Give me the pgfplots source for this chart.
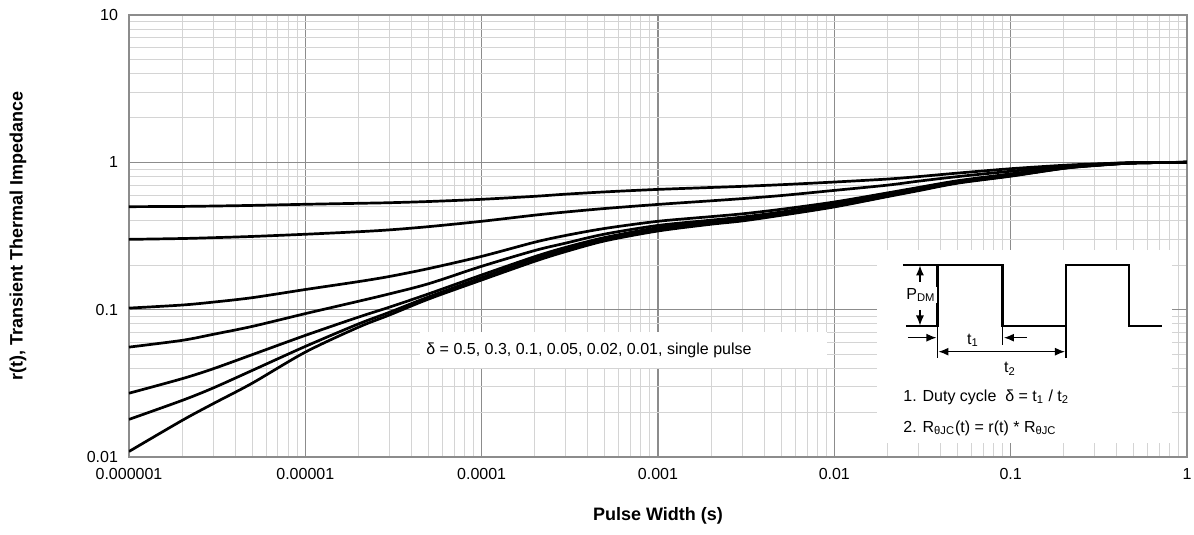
\documentclass[border=0pt]{standalone}
\usepackage{pgfplots}
\pgfplotsset{compat=1.18}
\usepackage{pgfplotstable}
\usepackage{fontspec}
\setmainfont{Liberation Sans}
\usetikzlibrary{arrows.meta}
\definecolor{majgrid}{HTML}{8C8C8C}
\definecolor{mingrid}{HTML}{D4D4D4}

\pgfplotstableread{
x      d05    d03    d01     d005    d002   d001   sp
1e-6   0.500  0.300  0.1025  0.0557  0.0271 0.0180 0.0109
2e-6   0.502  0.304  0.1075  0.0619  0.0340 0.0242 0.0177
3e-6   0.505  0.308  0.1125  0.0680  0.0397 0.0294 0.0230
5e-6   0.510  0.314  0.1206  0.0770  0.0495 0.0387 0.0317
1e-5   0.519  0.325  0.137   0.094   0.0669 0.0563 0.0515
2e-5   0.527  0.338  0.155   0.114   0.089  0.080  0.076
3e-5   0.532  0.348  0.168   0.128   0.104  0.096  0.092
5e-5   0.542  0.366  0.190   0.150   0.128  0.122  0.118
1e-4   0.561  0.398  0.230   0.197   0.172  0.165  0.159
2e-4   0.588  0.438  0.287   0.252   0.229  0.221  0.213
3e-4   0.608  0.460  0.319   0.283   0.265  0.256  0.248
5e-4   0.630  0.486  0.356   0.326   0.309  0.301  0.293
1e-3   0.655  0.518  0.398   0.373   0.360  0.350  0.342
2e-3   0.675  0.548  0.428   0.405   0.395  0.388  0.380
3e-3   0.687  0.567  0.447   0.425   0.415  0.408  0.400
5e-3   0.705  0.595  0.480   0.460   0.450  0.443  0.437
1e-2   0.735  0.645  0.538   0.522   0.512  0.505  0.498
2e-2   0.770  0.700  0.620   0.605   0.597  0.590  0.585
3e-2   0.800  0.745  0.675   0.660   0.653  0.647  0.642
5e-2   0.845  0.800  0.750   0.740   0.733  0.727  0.722
1e-1   0.905  0.870  0.835   0.825   0.815  0.810  0.805
2e-1   0.955  0.940  0.925   0.920   0.915  0.912  0.910
3e-1   0.975  0.970  0.960   0.957   0.955  0.953  0.950
5e-1   0.995  0.995  0.990   0.990   0.990  0.990  0.990
1      1.000  1.000  1.000   1.000   1.000  1.000  1.000
}\datatable

\begin{document}
\begin{tikzpicture}
\path[use as bounding box] (-64.5bp,-39bp) rectangle (532.5bp,228.5bp);
\begin{axis}[
  scale only axis,
  width=529bp, height=221bp,
  at={(0,0)}, anchor=south west,
  xmode=log, ymode=log,
  xmin=1e-6, xmax=1, ymin=0.01, ymax=10,
  xtick={1e-6,1e-5,1e-4,1e-3,1e-2,1e-1,1},
  xticklabels={0.000001,0.00001,0.0001,0.001,0.01,0.1,1},
  ytick={0.01,0.1,1,10},
  yticklabels={0.01,0.1,1,10},
  minor xtick={2e-6,3e-6,4e-6,5e-6,6e-6,7e-6,8e-6,9e-6,
               2e-5,3e-5,4e-5,5e-5,6e-5,7e-5,8e-5,9e-5,
               2e-4,3e-4,4e-4,5e-4,6e-4,7e-4,8e-4,9e-4,
               2e-3,3e-3,4e-3,5e-3,6e-3,7e-3,8e-3,9e-3,
               2e-2,3e-2,4e-2,5e-2,6e-2,7e-2,8e-2,9e-2,
               0.2,0.3,0.4,0.5,0.6,0.7,0.8,0.9},
  minor ytick={0.02,0.03,0.04,0.05,0.06,0.07,0.08,0.09,
               0.2,0.3,0.4,0.5,0.6,0.7,0.8,0.9,
               2,3,4,5,6,7,8,9},
  grid=both,
  major grid style={majgrid, line width=0.7bp},
  minor grid style={mingrid, line width=0.5bp},
  axis line style={majgrid, line width=0.7bp},
  major tick length=0pt, minor tick length=0pt,
  tick label style={font=\fontsize{8bp}{9.6bp}\selectfont, text=black},
  /pgf/number format/assume math mode=true,
  xticklabel style={yshift=-2bp},
  yticklabel style={xshift=-2bp},
  xlabel={Pulse Width (s)},
  ylabel={r(t), Transient Thermal Impedance},
  label style={font=\fontsize{9bp}{10.8bp}\selectfont\bfseries},
  xlabel style={at={(axis description cs:0.5,-0.1335)}, anchor=center},
  ylabel style={at={(axis description cs:-0.1049,0.5)}, anchor=center, rotate=0},
  mycurve/.style={black, solid, line width=1.35bp, smooth, tension=0.5, mark=none, line join=round},
]
\addplot[mycurve] table[x=x, y=d05] {\datatable};
\addplot[mycurve] table[x=x, y=d03] {\datatable};
\addplot[mycurve] table[x=x, y=d01] {\datatable};
\addplot[mycurve] table[x=x, y=d005] {\datatable};
\addplot[mycurve] table[x=x, y=d002] {\datatable};
\addplot[mycurve] table[x=x, y=d001] {\datatable};
\addplot[mycurve] table[x=x, y=sp] {\datatable};
\end{axis}
\begin{scope}[x=0.5bp, y=-0.5bp, shift={(-64.5bp,228.5bp)},
  every node/.style={font=\fontsize{8bp}{9.6bp}\selectfont, inner sep=0pt}]
  % delta annotation box
  \fill[white] (420,332) rectangle (827,368);
  \node[anchor=west] at (426,350) {δ = 0.5, 0.3, 0.1, 0.05, 0.02, 0.01, single pulse};
  % inset box
  \fill[white] (877,250) rectangle (1172,443);
  \draw[line width=1.25bp, line join=miter]
    (906,326) -- (937.7,326) -- (937.7,265) -- (1002.7,265) -- (1002.7,326)
    -- (1066,326) -- (1066,265) -- (1129,265) -- (1129,326) -- (1161.7,326);
  \draw[line width=0.6bp] (903,265) -- (936,265);
  \draw[line width=0.6bp, -{Latex[length=5bp,width=4bp]}] (920,282) -- (920,265.5);
  \draw[line width=0.6bp, -{Latex[length=5bp,width=4bp]}] (920,310) -- (920,325.5);
  \node[fill=white, inner sep=0.5bp] at (921,295) {P\textsubscript{DM}};
  \draw[line width=0.6bp] (937.7,326) -- (937.7,358);
  \draw[line width=0.6bp] (1002.7,326) -- (1002.7,345);
  \draw[line width=0.6bp] (1066,326) -- (1066,358);
  \draw[line width=0.6bp, -{Latex[length=5bp,width=4bp]}] (908,337.7) -- (936.5,337.7);
  \draw[line width=0.6bp, -{Latex[length=5bp,width=4bp]}] (1027,337.7) -- (1004,337.7);
  \node at (973,340) {t\textsubscript{1}};
  \draw[line width=0.6bp, {Latex[length=5bp,width=4bp]}-{Latex[length=5bp,width=4bp]}] (938.5,351.7) -- (1065,351.7);
  \node at (1010,369) {t\textsubscript{2}};
  \node[anchor=west] at (903,397) {1. Duty cycle\ \ δ = t\textsubscript{1} / t\textsubscript{2}};
  \node[anchor=west] at (903,428) {2. R\textsubscript{θJC}(t) = r(t) * R\textsubscript{θJC}};
\end{scope}
\end{tikzpicture}
\end{document}
